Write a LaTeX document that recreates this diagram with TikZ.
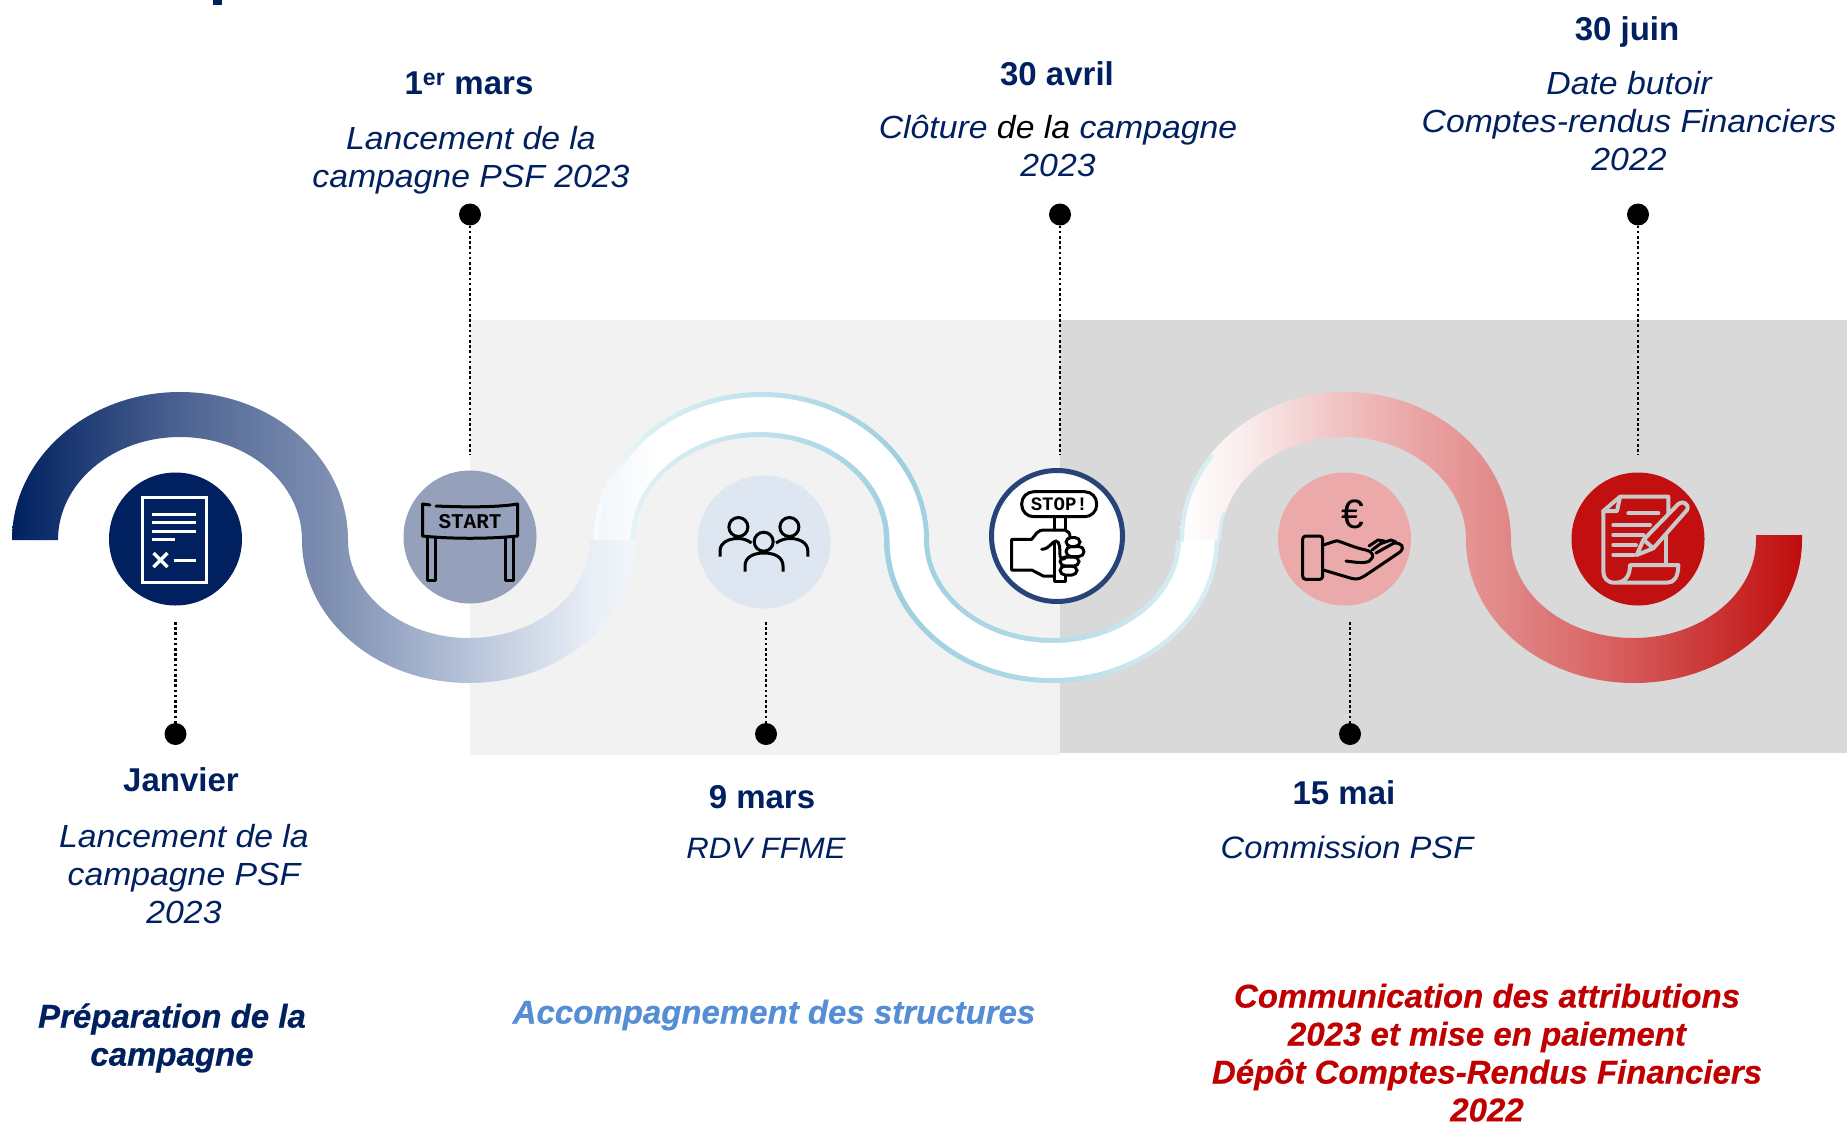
\documentclass[tikz,border=0pt]{standalone}
\usepackage{fontspec}
\setmainfont{Liberation Sans}
\newfontfamily\descfont{Liberation Sans}[FakeStretch=1.055]
\newfontfamily\phasefont{Liberation Sans}[BoldItalicFeatures={FakeBold=0.35}]
\newfontfamily\iconfont{Liberation Mono}
\definecolor{navy}{HTML}{002060}
\definecolor{skyt}{HTML}{558ED5}
\definecolor{redt}{HTML}{C00000}
\definecolor{redc}{HTML}{C20F0F}
\definecolor{bgl}{HTML}{F2F2F2}
\definecolor{bgd}{HTML}{D9D9D9}
\definecolor{scrollg}{HTML}{C9C9C9}
\definecolor{slatec}{HTML}{95A1BB}
\definecolor{palec}{HTML}{DDE6F1}
\definecolor{pinkc}{HTML}{ECA9A9}
\definecolor{ringc}{HTML}{264478}
\definecolor{edgeb}{HTML}{D8EDF3}
\pgfdeclarehorizontalshading{bandone}{100bp}{
 rgb(0bp)=(0,0.125,0.376);
 rgb(25bp)=(0,0.125,0.376);
 rgb(38bp)=(0.29,0.38,0.565);
 rgb(51.3bp)=(0.51,0.573,0.706);
 rgb(61.7bp)=(0.718,0.769,0.855);
 rgb(71.3bp)=(0.91,0.933,0.965);
 rgb(75bp)=(0.95,0.965,0.985);
 rgb(100bp)=(0.95,0.965,0.985)}
\pgfdeclarehorizontalshading{bandtwo}{100bp}{
 rgb(0bp)=(0.97,0.99,0.995);
 rgb(25bp)=(0.97,0.99,0.995);
 rgb(29.5bp)=(0.86,0.935,0.955);
 rgb(38bp)=(0.753,0.886,0.925);
 rgb(49.5bp)=(0.616,0.816,0.878);
 rgb(61.5bp)=(0.698,0.859,0.906);
 rgb(69.5bp)=(0.816,0.914,0.941);
 rgb(75bp)=(0.85,0.93,0.955);
 rgb(100bp)=(0.85,0.93,0.955)}
\pgfdeclarehorizontalshading{bandin}{100bp}{
 rgb(0bp)=(0.95,0.965,0.985);
 rgb(25bp)=(0.95,0.965,0.985);
 rgb(30bp)=(1,1,1);
 rgb(100bp)=(1,1,1)}
\pgfdeclarehorizontalshading{bandthree}{100bp}{
 rgb(0bp)=(1,1,1);
 rgb(25bp)=(1,1,1);
 rgb(29.8bp)=(0.984,0.933,0.933);
 rgb(38.3bp)=(0.941,0.753,0.753);
 rgb(45.9bp)=(0.91,0.612,0.612);
 rgb(51.5bp)=(0.878,0.525,0.525);
 rgb(58.7bp)=(0.855,0.396,0.396);
 rgb(66.8bp)=(0.8,0.227,0.227);
 rgb(75bp)=(0.753,0.051,0.051);
 rgb(100bp)=(0.753,0.051,0.051)}
\tikzset{
 halo/.style={circle,minimum size=133pt,inner sep=0pt,outer sep=0pt},
 pin/.style={circle,fill=black,minimum size=22pt,inner sep=0pt,outer sep=0pt},
 dotline/.style={draw=black,line width=2.6pt,dash pattern=on 2.6pt off 2.6pt},
 datetext/.style={font=\fontsize{33}{38}\selectfont\bfseries,text=navy,inner sep=0pt},
 desctext/.style={font=\descfont\fontsize{32}{38}\selectfont\itshape,text=navy,align=center,inner sep=0pt},
 phasetext/.style={font=\phasefont\fontsize{33}{38}\selectfont\bfseries\itshape,align=center,inner sep=0pt},
 icondoc/.style={draw=white,line width=3pt},
 iconline/.style={draw=black,line width=3pt,line join=round,line cap=round},
 iconscroll/.style={draw=scrollg,line width=4pt,line join=round,line cap=round},
}
\begin{document}
\begin{tikzpicture}[x=1pt,y=1pt]
\useasboundingbox (0,-1125) rectangle (1847,0);
\fill[white] (0,-1125) rectangle (1847,0);
% backgrounds
\fill[bgl] (470,-320) rectangle (1060,-755);
\fill[bgd] (1060,-320) rectangle (1847,-753);
% title fragment
\fill[navy] (213,0) rectangle (222,-4.5);
% band 1
\shade[shading=bandone] (12,-540)
  arc[start angle=180,end angle=0,x radius=168pt,y radius=148pt]
  arc[start angle=180,end angle=360,x radius=121pt,y radius=98pt]
  -- (636,-540)
  arc[start angle=0,end angle=-180,x radius=167pt,y radius=143pt]
  arc[start angle=0,end angle=180,x radius=122pt,y radius=103pt]
  -- cycle;
% band 2
\shade[shading=bandtwo] (594,-540)
  arc[start angle=180,end angle=0,x radius=167.5pt,y radius=148pt]
  arc[start angle=180,end angle=360,x radius=123.5pt,y radius=98pt]
  -- (1219,-540)
  arc[start angle=0,end angle=-180,x radius=167.5pt,y radius=143pt]
  arc[start angle=0,end angle=180,x radius=124.5pt,y radius=103pt]
  -- cycle;
\shade[shading=bandin] (599,-540)
  arc[start angle=180,end angle=0,x radius=162.5pt,y radius=143pt]
  arc[start angle=180,end angle=360,x radius=128.5pt,y radius=103pt]
  -- (1214.5,-540)
  arc[start angle=0,end angle=-180,x radius=162.5pt,y radius=138pt]
  arc[start angle=0,end angle=180,x radius=129.5pt,y radius=108pt]
  -- cycle;
% band 3
\shade[shading=bandthree] (1180,-540)
  arc[start angle=180,end angle=0,x radius=165.5pt,y radius=148pt]
  arc[start angle=180,end angle=360,x radius=122.5pt,y radius=98pt]
  -- (1756,-535) -- (1802,-535) -- (1802,-540)
  arc[start angle=0,end angle=-180,x radius=168pt,y radius=143pt]
  arc[start angle=0,end angle=180,x radius=122.5pt,y radius=103pt]
  -- cycle;
\draw[edgeb,line width=4pt,line cap=round] (1182,-540) arc[start angle=180,end angle=145,x radius=163.5pt,y radius=146pt];
\draw[edgeb,line width=3pt,line cap=round] (1219.5,-540) arc[start angle=180,end angle=165,x radius=124pt,y radius=104.5pt];
% circles
\node[halo,fill=navy] (cjan) at (175.5,-539) {};
\node[halo,fill=slatec] (cmar) at (470,-537) {};
\node[halo,fill=palec] (cffme) at (764,-542) {};
\node[circle,minimum size=131pt,inner sep=0pt,fill=white,draw=ringc,line width=5pt] (cstop) at (1057,-536) {};
\node[halo,fill=pinkc] (cmai) at (1344.5,-539) {};
\node[halo,fill=redc] (cjuin) at (1638,-539) {};
% pins and connectors
\node[pin] (pjan) at (175.5,-734) {};
\node[pin] (pmar) at (470,-214.5) {};
\node[pin] (pffme) at (766,-734) {};
\node[pin] (pavr) at (1060,-214.5) {};
\node[pin] (pmai) at (1350,-734) {};
\node[pin] (pjuin) at (1638,-214.5) {};
\coordinate (ejan) at (175.5,-622);
\coordinate (emar) at (470,-455);
\coordinate (effme) at (766,-622);
\coordinate (eavr) at (1060,-455);
\coordinate (emai) at (1350,-622);
\coordinate (ejuin) at (1638,-455);
\draw[dotline] (ejan) -- (pjan);
\draw[dotline] (pmar) -- (emar);
\draw[dotline] (effme) -- (pffme);
\draw[dotline] (pavr) -- (eavr);
\draw[dotline] (emai) -- (pmai);
\draw[dotline] (pjuin) -- (ejuin);
% document icon
\draw[icondoc] (142,-497) rectangle (206,-582);
\draw[icondoc] (152,-514) -- (196,-514) (152,-522.5) -- (196,-522.5) (152,-531) -- (196,-531) (152,-539.5) -- (175,-539.5);
\draw[icondoc,line width=3.5pt] (153.5,-553) -- (167.5,-567) (167.5,-553) -- (153.5,-567);
\draw[icondoc] (173.5,-560) -- (196,-560);
% start icon
\draw[iconline] (422.5,-504) -- (422.5,-536) .. controls (450,-539) and (490,-539) .. (517.5,-536) -- (517.5,-504) .. controls (500,-507) and (470,-507.5) .. (436,-506);
\draw[iconline] (422.5,-504) -- (430,-505);
\draw[iconline] (427,-537) -- (427,-580) -- (435,-580) -- (435,-537);
\draw[iconline] (505,-537) -- (505,-580) -- (513,-580) -- (513,-537);
\node[font=\iconfont\bfseries\fontsize{21}{21}\selectfont,text=black,inner sep=0pt] (tstart) at (470,-522) {START};
% people icon
\draw[iconline,line cap=butt] (738.4,-527) circle (9.5pt) (789.4,-527) circle (9.5pt) (763.7,-541.7) circle (9.5pt);
\draw[iconline,line cap=butt] (745,-571.7) -- (745,-566) .. controls (745,-558) and (752,-553) .. (764,-553) .. controls (776,-553) and (783,-558) .. (783,-566) -- (783,-571.7);
\draw[iconline,line cap=butt] (720,-556.7) -- (720,-551) .. controls (720,-543) and (728,-538.5) .. (738,-538.5) .. controls (744,-538.5) and (748,-540.5) .. (751.5,-543);
\draw[iconline,line cap=butt] (807.8,-556.7) -- (807.8,-551) .. controls (807.8,-543) and (800,-538.5) .. (790,-538.5) .. controls (784,-538.5) and (780,-540.5) .. (776,-543);
% stop icon
\draw[iconline,rounded corners=12pt] (1021.7,-491.7) rectangle (1096.7,-516.7);
\node[font=\iconfont\bfseries\fontsize{19}{19}\selectfont,text=black,inner sep=0pt] (tstop) at (1059.3,-504) {STOP!};
\draw[iconline] (1054.3,-516.7) -- (1054.3,-530) (1065.3,-516.7) -- (1065.3,-530);
\draw[iconline,line join=round] (1054,-576) -- (1043.3,-576) -- (1031.7,-570) -- (1011.7,-570) -- (1011.7,-539.3) -- (1031.7,-539.3) .. controls (1036,-535) and (1036,-530) .. (1045,-530) -- (1065,-530) .. controls (1068,-531) and (1070,-533) .. (1070,-537);
\draw[iconline,rounded corners=5pt] (1066,-537.5) rectangle (1080,-546.5);
\draw[iconline,rounded corners=5pt] (1066,-546.5) rectangle (1084,-556.5);
\draw[iconline,rounded corners=5pt] (1060,-557) rectangle (1079,-566);
\draw[iconline,rounded corners=5pt] (1060,-566) rectangle (1077,-575);
\draw[iconline] (1054,-543) -- (1054,-581) -- (1065.3,-581) -- (1065.3,-576);
\draw[iconline] (1041.7,-549.3) .. controls (1050,-549) and (1052,-541) .. (1056,-541) .. controls (1060,-541) and (1060,-550) .. (1060,-556) .. controls (1061,-560) and (1064,-560) .. (1066,-557);
% euro icon
\node[font=\fontsize{41}{41}\selectfont,text=black,inner sep=0pt] (teuro) at (1353.3,-514.3) {€};
\draw[iconline,rounded corners=3pt] (1302.7,-536) rectangle (1322.7,-579.3);
\draw[iconline] (1323.3,-545) -- (1336.7,-540.7) .. controls (1345,-543) and (1355,-548) .. (1366,-550) .. controls (1372,-551) and (1374,-556) .. (1372,-558) .. controls (1370,-564) and (1360,-563) .. (1346,-561);
\draw[iconline] (1323.3,-570) -- (1352,-578.5) .. controls (1358,-580) and (1361,-578) .. (1366,-575) -- (1400,-552) .. controls (1405,-547) and (1402,-543) .. (1394,-543) -- (1376,-553);
\draw[iconline] (1369,-546) -- (1378,-540) -- (1384,-541) -- (1372,-550);
\draw[iconline] (1381,-543.5) -- (1391,-540) -- (1396,-542);
% scroll icon
\draw[iconscroll] (1668.3,-530) -- (1668.3,-496.7) -- (1620,-496.7) -- (1603.3,-511) -- (1603.3,-571) .. controls (1603.3,-578) and (1607,-582.7) .. (1615,-582.7) -- (1667,-582.7) .. controls (1674,-582.7) and (1678.3,-577) .. (1678.3,-565) -- (1630,-565) .. controls (1630,-575) and (1626,-582.7) .. (1615,-582.7);
\draw[iconscroll] (1603.3,-511) -- (1617,-511) -- (1620,-497);
\draw[iconscroll] (1666,-530) -- (1666,-565);
\draw[iconscroll] (1628.3,-513.3) -- (1658.3,-513.3) (1613.3,-525) -- (1650,-525) (1613.3,-535) -- (1643.3,-535) (1613.3,-545) -- (1636,-545) (1613.3,-555) -- (1634,-555);
\draw[iconscroll,fill=redc] (1636.7,-555) -- (1643.3,-540) -- (1678.3,-504) .. controls (1682,-500) and (1690,-504) .. (1687,-510) -- (1653.3,-548.3) -- cycle;
\draw[iconscroll] (1644,-540) -- (1653,-548);
% date and description texts
\node[datetext] (d1) at (181,-780) {Janvier};
\node[desctext] (t1) at (184,-874) {Lancement de la\\campagne PSF\\2023};
\node[datetext] (d2) at (469,-83) {1\textsuperscript{er} mars};
\node[desctext] (t2) at (471,-160.5) {Lancement de la\\campagne PSF 2023};
\node[datetext] (d3) at (762,-797) {9 mars};
\node[desctext,font=\descfont\fontsize{29.5}{38}\selectfont\itshape] (t3) at (766,-848) {RDV FFME};
\node[datetext] (d4) at (1057,-73.5) {30 avril};
\node[desctext] (t4) at (1058,-146) {Clôture {\color{black}de la} campagne\\2023};
\node[datetext] (d5) at (1344,-792.5) {15 mai};
\node[desctext,font=\descfont\fontsize{31}{38}\selectfont\itshape] (t5) at (1347,-847) {Commission PSF};
\node[datetext] (d6) at (1627,-31.5) {30 juin};
\node[desctext] (t6) at (1629,-121) {Date butoir\\Comptes-rendus Financiers\\2022};
% phase texts
\node[phasetext,text=navy] (f1) at (172,-1038) {Préparation de la\\campagne};
\node[phasetext,text=skyt] (f2) at (774,-1015) {Accompagnement des structures};
\node[phasetext,text=redt] (f3) at (1487,-1037) {Communication des attributions\\2023 et mise en paiement\\Dépôt Comptes-Rendus Financiers};
\node[phasetext,text=redt] (f4) at (1487,-1110) {2022};
\end{tikzpicture}
\end{document}
